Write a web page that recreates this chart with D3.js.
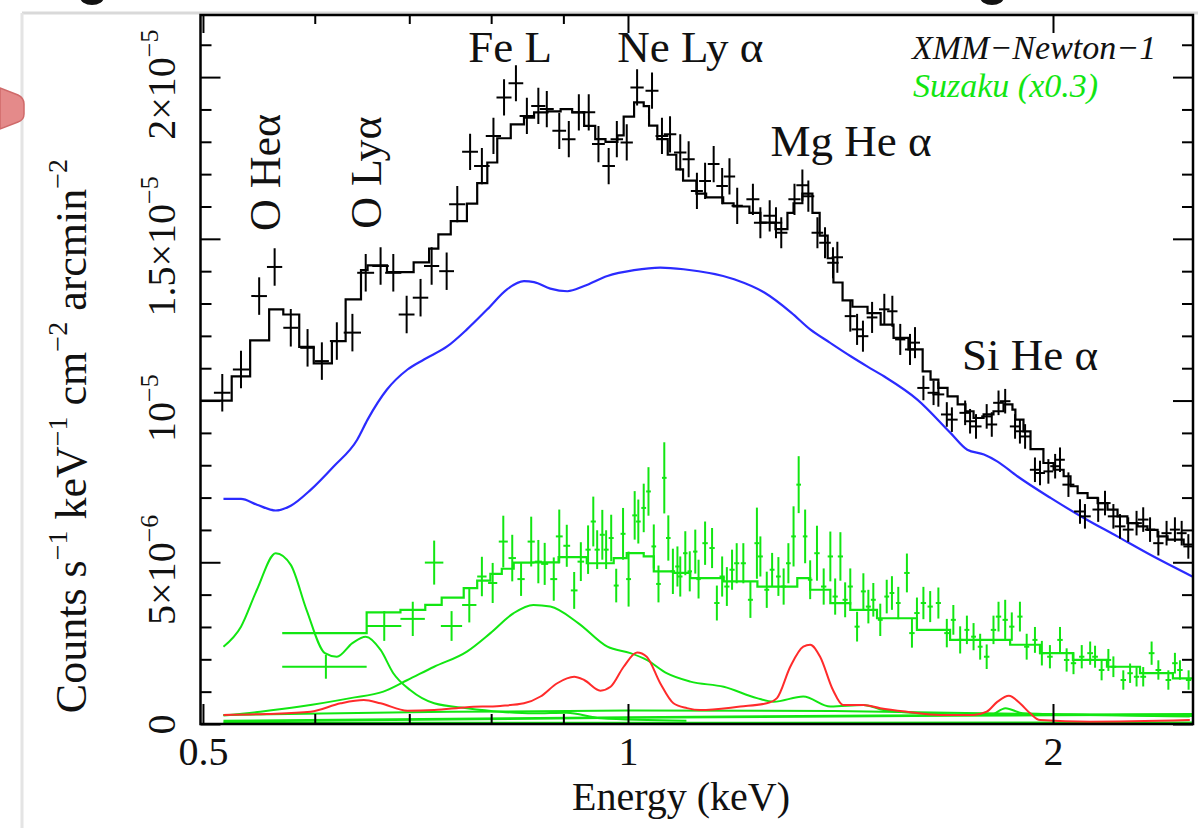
<!DOCTYPE html>
<html>
<head>
<meta charset="utf-8">
<script src="https://cdn.jsdelivr.net/npm/d3@7"></script>
<style>
  html, body { margin: 0; padding: 0; background: #fff; }
  svg { display: block; }
</style>
</head>
<body>
<svg id="chart" width="1198" height="828"></svg>
<script>
// ---------- data (rates in units of 1e-6 counts s^-1 keV^-1 cm^-2 arcmin^-2) ----------
const UNIT = 1e-6;

const xMajor = [0.5, 1, 2];
const xMinor = [0.6, 0.7, 0.8, 0.9];
const yMajor = [0, 5e-6, 1e-5, 1.5e-5, 2e-5];
const yTickMant = ["0", "5\u00d710", "10", "1.5\u00d710", "2\u00d710"];
const yTickExp = ["", "\u22126", "\u22125", "\u22125", "\u22125"];

// XMM-Newton data points
const xmmE = [
  0.516, 0.532, 0.548, 0.562, 0.577, 0.593, 0.607, 0.622, 0.638, 0.652,
  0.668, 0.682, 0.697, 0.713, 0.726, 0.744, 0.757, 0.773, 0.788, 0.803,
  0.817, 0.833, 0.848, 0.864, 0.876, 0.894, 0.908, 0.923, 0.938, 0.953,
  0.969, 0.982, 0.998, 1.015, 1.040, 1.057, 1.071, 1.089, 1.104, 1.119,
  1.134, 1.150, 1.166, 1.180, 1.195, 1.226, 1.241, 1.260, 1.273, 1.284,
  1.312, 1.329, 1.342, 1.362, 1.379, 1.397, 1.407, 1.437, 1.453, 1.467,
  1.489, 1.519, 1.539, 1.559, 1.584, 1.597, 1.619, 1.646, 1.659, 1.682,
  1.696, 1.733, 1.747, 1.764, 1.795, 1.810, 1.830, 1.850, 1.880, 1.895,
  1.911, 1.942, 1.958, 1.985, 2.007, 2.023, 2.051, 2.090, 2.107, 2.153,
  2.177, 2.207, 2.231, 2.261, 2.292, 2.317, 2.343, 2.375, 2.407, 2.440,
  2.467, 2.494
];
const xmmV = [
  10.24, 10.96, 13.23, 14.13, 12.25, 11.63, 11.22, 11.84, 12.10, 13.95,
  14.16, 13.95, 12.66, 13.18, 14.16, 14.00, 16.07, 17.69, 17.25, 18.18,
  19.37, 19.81, 18.80, 19.11, 19.01, 18.34, 18.08, 18.91, 18.91, 17.93,
  17.25, 18.08, 17.98, 19.68, 19.58, 18.18, 18.23, 17.67, 17.46, 16.48,
  16.79, 17.31, 16.63, 16.93, 16.02, 16.22, 15.50, 15.71, 15.50, 15.19,
  16.22, 16.66, 16.32, 15.19, 14.88, 14.26, 14.43, 12.61, 12.20, 11.99,
  12.57, 12.82, 12.76, 11.89, 11.58, 11.79, 10.39, 10.24, 10.19, 9.57,
  9.41, 9.62, 9.36, 9.20, 9.51, 9.26, 9.93, 9.98, 9.20, 9.05,
  8.89, 7.86, 7.76, 7.81, 7.97, 8.17, 7.40, 6.57, 6.42, 6.63,
  6.83, 6.42, 6.11, 6.01, 6.21, 6.32, 6.01, 5.59, 5.90, 6.01,
  5.90, 5.49
];
const xmmErrV = [
  0.58, 0.58, 0.58, 0.58, 0.58, 0.58, 0.58, 0.58, 0.58, 0.58,
  0.58, 0.58, 0.58, 0.58, 0.58, 0.58, 0.56, 0.56, 0.56, 0.56,
  0.56, 0.56, 0.56, 0.56, 0.56, 0.56, 0.56, 0.56, 0.56, 0.56,
  0.56, 0.56, 0.56, 0.56, 0.56, 0.56, 0.56, 0.56, 0.56, 0.56,
  0.56, 0.56, 0.56, 0.56, 0.56, 0.48, 0.48, 0.48, 0.48, 0.48,
  0.48, 0.48, 0.48, 0.48, 0.48, 0.48, 0.48, 0.48, 0.48, 0.48,
  0.48, 0.48, 0.48, 0.48, 0.48, 0.48, 0.38, 0.38, 0.38, 0.38,
  0.38, 0.38, 0.38, 0.38, 0.38, 0.38, 0.38, 0.38, 0.38, 0.38,
  0.38, 0.38, 0.38, 0.38, 0.38, 0.38, 0.38, 0.38, 0.38, 0.38,
  0.38, 0.38, 0.38, 0.38, 0.38, 0.38, 0.38, 0.38, 0.38, 0.38,
  0.38, 0.38
];
const xmmErrE = [
  0.007, 0.007, 0.007, 0.007, 0.007, 0.007, 0.007, 0.007, 0.009, 0.009,
  0.009, 0.009, 0.009, 0.009, 0.009, 0.009, 0.010, 0.010, 0.010, 0.010,
  0.010, 0.010, 0.010, 0.010, 0.010, 0.010, 0.010, 0.010, 0.010, 0.010,
  0.010, 0.010, 0.010, 0.011, 0.011, 0.011, 0.011, 0.011, 0.011, 0.011,
  0.011, 0.011, 0.011, 0.011, 0.011, 0.013, 0.013, 0.013, 0.013, 0.013,
  0.013, 0.013, 0.013, 0.013, 0.013, 0.013, 0.013, 0.013, 0.013, 0.013,
  0.013, 0.013, 0.013, 0.013, 0.013, 0.013, 0.016, 0.016, 0.016, 0.016,
  0.016, 0.016, 0.016, 0.016, 0.016, 0.016, 0.016, 0.016, 0.016, 0.016,
  0.016, 0.016, 0.016, 0.016, 0.016, 0.016, 0.020, 0.020, 0.020, 0.020,
  0.020, 0.020, 0.020, 0.020, 0.020, 0.020, 0.020, 0.020, 0.020, 0.020,
  0.020, 0.020
];

// XMM-Newton folded model (histogram: bin left edges + values)
const xmmStepE = [
  0.498, 0.524, 0.540, 0.557, 0.570, 0.585, 0.599, 0.617, 0.631, 0.647,
  0.654, 0.675, 0.705, 0.723, 0.734, 0.749, 0.769, 0.782, 0.795, 0.808,
  0.826, 0.844, 0.858, 0.877, 0.896, 0.913, 0.931, 0.948, 0.964, 0.983,
  0.993, 1.010, 1.026, 1.035, 1.049, 1.067, 1.082, 1.094, 1.118, 1.136,
  1.168, 1.188, 1.219, 1.241, 1.272, 1.297, 1.310, 1.329, 1.351, 1.367,
  1.385, 1.398, 1.419, 1.442, 1.478, 1.510, 1.542, 1.580, 1.617, 1.638,
  1.659, 1.684, 1.712, 1.734, 1.757, 1.786, 1.815, 1.845, 1.872, 1.881,
  1.906, 1.928, 1.969, 2.002, 2.035, 2.058, 2.082, 2.116, 2.151, 2.186,
  2.222, 2.258, 2.296, 2.333, 2.372, 2.411, 2.475
];
const xmmStepV = [
  10.00, 10.75, 11.86, 12.82, 12.66, 11.66, 11.15, 11.84, 13.13, 14.03,
  14.18, 13.97, 14.27, 14.70, 15.14, 15.55, 16.09, 16.72, 17.36, 18.11,
  18.54, 18.75, 18.91, 18.94, 19.01, 18.91, 18.49, 18.08, 18.00, 18.20,
  18.78, 19.22, 19.10, 18.50, 18.08, 17.60, 17.15, 16.80, 16.40, 16.28,
  16.10, 16.00, 15.80, 15.50, 15.30, 15.80, 16.10, 16.40, 15.80, 15.10,
  14.40, 13.65, 13.10, 12.90, 12.70, 12.35, 11.94, 11.58, 10.90, 10.65,
  10.39, 10.13, 9.88, 9.67, 9.46, 9.57, 9.67, 9.88, 9.72, 9.41,
  9.05, 8.50, 8.07, 7.86, 7.66, 7.35, 7.14, 6.99, 6.83, 6.63,
  6.42, 6.21, 6.11, 6.00, 5.80, 5.70, 5.55
];
const xmmStepEnd = 2.52;

// continuum model (blue)
const blueE = [
  0.517, 0.532, 0.546, 0.563, 0.577, 0.596, 0.619, 0.643, 0.654, 0.675,
  0.698, 0.717, 0.745, 0.769, 0.795, 0.821, 0.844, 0.858, 0.881, 0.906,
  0.931, 0.967, 1.010, 1.054, 1.095, 1.189, 1.249, 1.305, 1.346, 1.389,
  1.438, 1.478, 1.518, 1.603, 1.692, 1.739, 1.787, 1.826, 1.887, 1.992,
  2.103, 2.221, 2.344, 2.510
];
const blueV = [
  6.96, 6.96, 6.78, 6.60, 6.75, 7.24, 7.97, 8.79, 9.41, 10.34,
  10.96, 11.27, 11.68, 12.20, 12.82, 13.44, 13.69, 13.66, 13.46, 13.38,
  13.54, 13.85, 14.03, 14.11, 14.06, 13.75, 13.34, 12.72, 12.20, 11.80,
  11.37, 11.05, 10.75, 10.03, 9.00, 8.48, 8.33, 8.12, 7.66, 6.99,
  6.37, 5.80, 5.23, 4.56
];

// Suzaku data points (x0.3)
const suzE = [
  0.611, 0.672, 0.704, 0.729, 0.750, 0.772, 0.788, 0.802, 0.816, 0.828,
  0.840, 0.854, 0.864, 0.873, 0.886, 0.894, 0.905, 0.916, 0.926, 0.937,
  0.945, 0.951, 0.959, 0.965, 0.973, 0.981, 0.992, 1.001, 1.011, 1.017,
  1.026, 1.034, 1.043, 1.051, 1.061, 1.068, 1.076, 1.084, 1.089, 1.098,
  1.106, 1.116, 1.122, 1.134, 1.147, 1.156, 1.166, 1.175, 1.185, 1.194,
  1.207, 1.221, 1.234, 1.241, 1.254, 1.265, 1.278, 1.289, 1.299, 1.310,
  1.321, 1.335, 1.346, 1.361, 1.376, 1.391, 1.402, 1.414, 1.425, 1.437,
  1.453, 1.468, 1.480, 1.492, 1.509, 1.525, 1.538, 1.554, 1.576, 1.589,
  1.602, 1.619, 1.637, 1.659, 1.682, 1.700, 1.719, 1.738, 1.757, 1.776,
  1.795, 1.815, 1.830, 1.850, 1.870, 1.895, 1.916, 1.942, 1.964, 1.990,
  2.023, 2.045, 2.068, 2.096, 2.125, 2.142, 2.165, 2.189, 2.207, 2.243,
  2.268, 2.292, 2.317, 2.349, 2.375, 2.414, 2.440, 2.460, 2.495
];
const suzV = [
  1.77, 3.03, 3.25, 4.99, 3.03, 3.68, 4.56, 4.36, 5.64, 5.13,
  4.48, 5.64, 5.02, 4.95, 4.48, 5.80, 5.51, 4.13, 5.02, 5.39,
  6.26, 5.39, 5.85, 5.39, 5.75, 4.28, 5.88, 4.48, 6.45, 6.26,
  6.68, 7.19, 5.49, 4.33, 7.61, 5.75, 4.72, 4.87, 4.56, 5.28,
  4.72, 5.33, 4.48, 5.59, 5.44, 3.74, 4.56, 4.25, 4.77, 4.97,
  4.97, 3.84, 5.59, 5.18, 4.15, 4.77, 4.56, 4.25, 4.97, 5.80,
  7.40, 5.80, 4.46, 5.28, 4.25, 5.18, 3.94, 5.18, 3.84, 4.25,
  3.01, 4.10, 3.63, 3.84, 3.22, 3.94, 4.05, 3.74, 4.67, 2.81,
  3.43, 3.74, 3.63, 3.74, 2.81, 3.22, 2.60, 2.91, 2.70, 2.39,
  2.08, 2.91, 3.32, 3.22, 3.01, 3.32, 2.39, 2.60, 2.19, 2.08,
  2.60, 1.98, 1.88, 2.08, 2.19, 2.08, 1.67, 1.98, 1.77, 1.36,
  1.57, 1.46, 1.46, 2.19, 1.67, 1.36, 1.88, 1.67, 1.36
];
const suzErrV = [
  0.37, 0.46, 0.53, 0.68, 0.46, 0.54, 0.61, 0.62, 0.80, 0.72,
  0.52, 0.77, 0.67, 0.65, 0.67, 0.83, 0.65, 0.57, 0.60, 0.75,
  0.77, 0.60, 0.77, 0.60, 0.72, 0.52, 0.80, 0.85, 0.75, 0.68,
  0.75, 0.75, 0.68, 0.57, 1.10, 0.70, 0.70, 0.62, 0.62, 0.68,
  0.62, 0.68, 0.60, 0.67, 0.62, 0.54, 0.62, 0.60, 0.62, 0.62,
  0.62, 0.56, 1.10, 0.62, 0.56, 0.52, 0.60, 0.56, 0.62, 0.93,
  0.88, 0.83, 0.60, 0.85, 0.56, 0.77, 0.56, 0.75, 0.54, 0.56,
  0.46, 0.56, 0.52, 0.52, 0.50, 0.52, 0.52, 0.50, 0.60, 0.45,
  0.48, 0.50, 0.48, 0.48, 0.44, 0.46, 0.42, 0.44, 0.42, 0.40,
  0.38, 0.44, 0.46, 0.62, 0.44, 0.46, 0.40, 0.40, 0.38, 0.36,
  0.40, 0.36, 0.34, 0.36, 0.36, 0.34, 0.32, 0.34, 0.32, 0.30,
  0.30, 0.30, 0.30, 0.36, 0.30, 0.30, 0.32, 0.30, 0.30
];
const suzErrE = [
  0.042, 0.019, 0.014, 0.011, 0.013, 0.009, 0.006, 0.006, 0.006, 0.005,
  0.005, 0.005, 0.005, 0.005, 0.005, 0.005, 0.005, 0.005, 0.005, 0.004,
  0.004, 0.004, 0.004, 0.004, 0.004, 0.004, 0.004, 0.004, 0.004, 0.004,
  0.004, 0.004, 0.004, 0.004, 0.004, 0.004, 0.004, 0.004, 0.004, 0.004,
  0.004, 0.004, 0.004, 0.005, 0.005, 0.005, 0.005, 0.005, 0.005, 0.005,
  0.005, 0.005, 0.005, 0.005, 0.005, 0.005, 0.005, 0.005, 0.005, 0.005,
  0.005, 0.005, 0.005, 0.006, 0.006, 0.006, 0.006, 0.006, 0.006, 0.006,
  0.006, 0.006, 0.006, 0.006, 0.006, 0.006, 0.006, 0.006, 0.007, 0.007,
  0.007, 0.007, 0.007, 0.007, 0.007, 0.007, 0.007, 0.007, 0.007, 0.007,
  0.008, 0.008, 0.008, 0.008, 0.008, 0.008, 0.008, 0.008, 0.009, 0.009,
  0.009, 0.009, 0.009, 0.009, 0.010, 0.010, 0.010, 0.010, 0.010, 0.010,
  0.010, 0.010, 0.011, 0.011, 0.011, 0.011, 0.011, 0.011, 0.011
];

// Suzaku folded model (histogram)
const suzStepE = [
  0.569, 0.653, 0.690, 0.7185, 0.738, 0.765, 0.782, 0.799, 0.814, 0.830,
  0.857, 0.893, 0.935, 0.977, 0.998, 1.026, 1.043, 1.077, 1.107, 1.169,
  1.235, 1.318, 1.346, 1.391, 1.437, 1.501, 1.602, 1.691, 1.865, 1.958,
  2.066, 2.184, 2.305, 2.432
];
const suzStepV = [
  2.81, 3.45, 3.53, 3.68, 3.91, 4.20, 4.43, 4.64, 4.80, 4.99,
  5.00, 5.16, 4.97, 5.13, 5.28, 5.18, 4.72, 4.67, 4.51, 4.41,
  4.25, 4.51, 4.15, 3.74, 3.53, 3.27, 2.91, 2.60, 2.45, 2.19,
  1.98, 1.77, 1.57, 1.41
];
const suzStepEnd = 2.52;

// Suzaku model components (green)
const oLineE = [0.517, 0.532, 0.546, 0.563, 0.577, 0.592, 0.610, 0.622, 0.638, 0.652,
  0.668, 0.682, 0.701, 0.729, 0.769, 0.812, 0.857, 0.905, 0.956, 1.100];
const oLineV = [2.39, 3.01, 4.15, 5.28, 4.92, 3.53, 2.19, 2.08, 2.50, 2.70,
  2.29, 1.57, 1.05, 0.64, 0.49, 0.38, 0.33, 0.35, 0.18, 0.10];

const feLE = [0.517, 0.549, 0.586, 0.636, 0.671, 0.698, 0.729, 0.769, 0.799, 0.830,
  0.857, 0.881, 0.922, 0.967, 1.004, 1.031, 1.065, 1.107, 1.169, 1.234,
  1.268, 1.331, 1.391, 1.468, 1.517, 1.618, 1.805, 1.851, 1.904, 2.125, 2.500];
const feLV = [0.26, 0.38, 0.54, 0.80, 1.00, 1.36, 1.77, 2.24, 2.81, 3.43,
  3.68, 3.63, 3.12, 2.39, 2.19, 1.98, 1.57, 1.31, 1.15, 0.80,
  0.69, 0.85, 0.54, 0.59, 0.43, 0.33, 0.28, 0.49, 0.33, 0.28, 0.23];

const lowAE = [0.517, 0.750, 1.000, 1.500, 2.000, 2.520];
const lowAV = [0.09, 0.15, 0.20, 0.25, 0.28, 0.30];
const lowBE = [0.517, 0.700, 1.000, 1.400, 2.000, 2.520];
const lowBV = [0.28, 0.36, 0.42, 0.40, 0.30, 0.25];
const lowCE = [0.517, 1.100, 2.520];
const lowCV = [0.03, 0.03, 0.04];

// line emission model (red)
const redE = [
  0.517, 0.555, 0.596, 0.626, 0.650, 0.668, 0.698, 0.729, 0.769, 0.812,
  0.844, 0.867, 0.891, 0.916, 0.931, 0.956, 0.972, 0.993, 1.015, 1.031,
  1.054, 1.077, 1.101, 1.125, 1.201, 1.254, 1.275, 1.303, 1.331, 1.346,
  1.368, 1.397, 1.420, 1.468, 1.509, 1.576, 1.664, 1.757, 1.795, 1.827,
  1.861, 1.895, 1.927, 1.958, 2.125, 2.500
];
const redV = [
  0.28, 0.31, 0.38, 0.64, 0.74, 0.64, 0.41, 0.43, 0.52, 0.56,
  0.64, 0.85, 1.26, 1.46, 1.36, 1.03, 1.15, 1.77, 2.21, 2.08,
  1.26, 0.64, 0.49, 0.43, 0.54, 0.64, 0.80, 1.77, 2.39, 2.45,
  2.08, 1.05, 0.59, 0.59, 0.49, 0.38, 0.28, 0.28, 0.38, 0.69,
  0.87, 0.64, 0.33, 0.12, 0.07, 0.12
];

// annotations
const lineLabels = [
  { text: "Fe L", E: 0.825, v: 20.46, anchor: "middle" },
  { text: "Ne Ly \u03b1", E: 1.107, v: 20.46, anchor: "middle" },
  { text: "Mg He \u03b1", E: 1.2615, v: 17.56, anchor: "start" },
  { text: "Si He \u03b1", E: 1.7240, v: 10.95, anchor: "start" }
];
const rotLabels = [
  { text: "O He\u03b1", E: 0.5665, v: 17.05 },
  { text: "O Ly\u03b1", E: 0.6680, v: 17.05 }
];

// ---------- layout ----------
const W = 1198, H = 828;
const plotL = 200.5, plotR = 1193, plotT = 15, plotB = 724;
const SERIF = "'Liberation Serif', 'Times New Roman', Times, serif";
const GREEN = "#12e612", RED = "#ff2b2b", BLUE = "#2b2bff";

const svg = d3.select("#chart");
const x = d3.scaleLog().domain([0.498, 2.513]).range([plotL, plotR]);
const y = d3.scaleLinear().domain([0, 21.92e-6]).range([plotB, plotT]);

// slide decorations around the figure
svg.append("rect").attr("width", W).attr("height", H).attr("fill", "#fff");
svg.append("line").attr("x1", 22).attr("x2", W).attr("y1", 13).attr("y2", 13)
  .attr("stroke", "#d9d9d9").attr("stroke-width", 3);
svg.append("line").attr("x1", 22).attr("x2", 22).attr("y1", 13).attr("y2", H)
  .attr("stroke", "#e4e4e4").attr("stroke-width", 3);
svg.append("path").attr("d", "M0,88 L18,95 Q24,98 24,104 L24,114 Q24,120 18,122 L0,129 Z")
  .attr("fill", "#e48a8a").attr("stroke", "#cf6a6a").attr("stroke-width", 1.5);
svg.append("ellipse").attr("cx", 92).attr("cy", -3).attr("rx", 12).attr("ry", 8).attr("fill", "#111");
svg.append("ellipse").attr("cx", 992).attr("cy", -3).attr("rx", 12).attr("ry", 8).attr("fill", "#111");

svg.append("clipPath").attr("id", "plotClip")
  .append("rect").attr("x", plotL).attr("y", plotT).attr("width", plotR - plotL).attr("height", plotB - plotT);
const plot = svg.append("g").attr("clip-path", "url(#plotClip)");

function pts(E, V) { return E.map((e, i) => [e, V[i] * UNIT]); }

const smooth = d3.line().x(d => x(d[0])).y(d => y(d[1])).curve(d3.curveMonotoneX);
const stepLine = d3.line().x(d => x(d[0])).y(d => y(d[1])).curve(d3.curveStepAfter);

function stepPts(E, V, end) {
  const p = pts(E, V);
  p.push([end, V[V.length - 1] * UNIT]);
  return p;
}

function drawCurve(E, V, color, w) {
  plot.append("path").attr("d", smooth(pts(E, V)))
    .attr("fill", "none").attr("stroke", color).attr("stroke-width", w)
    .attr("stroke-linejoin", "round");
}

function drawStep(E, V, end, color, w) {
  plot.append("path").attr("d", stepLine(stepPts(E, V, end)))
    .attr("fill", "none").attr("stroke", color).attr("stroke-width", w);
}

function drawCrosses(E, V, errV, errE, color, w) {
  const data = E.map((e, i) => ({ e, v: V[i] * UNIT, dv: errV[i] * UNIT, de: errE[i] }));
  const g = plot.append("g").attr("stroke", color).attr("stroke-width", w);
  g.selectAll(null).data(data).join("line")
    .attr("x1", d => x(d.e - d.de)).attr("x2", d => x(d.e + d.de))
    .attr("y1", d => y(d.v)).attr("y2", d => y(d.v));
  g.selectAll(null).data(data).join("line")
    .attr("x1", d => x(d.e)).attr("x2", d => x(d.e))
    .attr("y1", d => y(d.v - d.dv)).attr("y2", d => y(d.v + d.dv));
}

// green model components and red lines
drawCurve(lowCE, lowCV, GREEN, 2.6);
drawCurve(lowAE, lowAV, GREEN, 2.6);
drawCurve(lowBE, lowBV, GREEN, 2);
drawCurve(oLineE, oLineV, GREEN, 2);
drawCurve(feLE, feLV, GREEN, 2);
drawCurve(redE, redV, RED, 2);

// XMM
drawCurve(blueE, blueV, BLUE, 2.2);
drawStep(xmmStepE, xmmStepV, xmmStepEnd, "#000", 2.2);
drawCrosses(xmmE, xmmV, xmmErrV, xmmErrE, "#000", 2);

// Suzaku
drawStep(suzStepE, suzStepV, suzStepEnd, GREEN, 2.2);
drawCrosses(suzE, suzV, suzErrV, suzErrE, GREEN, 2);

// ---------- axes ----------
function styleTicks(g, w) {
  g.select(".domain").remove();
  g.selectAll(".tick line").attr("stroke", "#000").attr("stroke-width", w);
}

svg.append("g").attr("transform", `translate(0,${plotB})`)
  .call(d3.axisBottom(x).tickValues(xMinor).tickSizeInner(-10).tickSizeOuter(0).tickFormat(""))
  .call(g => styleTicks(g, 2));
const gxb = svg.append("g").attr("transform", `translate(0,${plotB})`)
  .call(d3.axisBottom(x).tickValues(xMajor).tickSizeInner(-20).tickSizeOuter(0).tickFormat(d3.format("")))
  .call(g => styleTicks(g, 2));
gxb.selectAll(".tick text").attr("y", 41).attr("dy", 0)
  .attr("font-family", SERIF).attr("font-size", 40).attr("fill", "#111");

svg.append("g").attr("transform", `translate(0,${plotT})`)
  .call(d3.axisTop(x).tickValues(xMinor).tickSizeInner(-9).tickSizeOuter(0).tickFormat(""))
  .call(g => styleTicks(g, 2));
svg.append("g").attr("transform", `translate(0,${plotT})`)
  .call(d3.axisTop(x).tickValues(xMajor).tickSizeInner(-18).tickSizeOuter(0).tickFormat(""))
  .call(g => styleTicks(g, 2));

const yMinor = y.ticks(22).filter(t => !yMajor.some(m => Math.abs(m - t) < 1e-9));
svg.append("g").attr("transform", `translate(${plotL},0)`)
  .call(d3.axisLeft(y).tickValues(yMinor).tickSizeInner(-11).tickSizeOuter(0).tickFormat(""))
  .call(g => styleTicks(g, 2));
const gyl = svg.append("g").attr("transform", `translate(${plotL},0)`)
  .call(d3.axisLeft(y).tickValues(yMajor).tickSizeInner(-20).tickSizeOuter(0).tickFormat(""))
  .call(g => styleTicks(g, 2));
svg.append("g").attr("transform", `translate(${plotR},0)`)
  .call(d3.axisRight(y).tickValues(yMinor).tickSizeInner(-11).tickSizeOuter(0).tickFormat(""))
  .call(g => styleTicks(g, 2));
svg.append("g").attr("transform", `translate(${plotR},0)`)
  .call(d3.axisRight(y).tickValues(yMajor).tickSizeInner(-20).tickSizeOuter(0).tickFormat(""))
  .call(g => styleTicks(g, 2));

// rotated y tick labels with superscript exponents
gyl.selectAll(".tick").each(function (d, i) {
  const t = d3.select(this).append("text")
    .attr("transform", `translate(-26,${i === 0 ? 0 : 7}) rotate(-90)`)
    .attr("text-anchor", "middle")
    .attr("font-family", SERIF).attr("font-size", 40).attr("fill", "#111");
  t.append("tspan").text(yTickMant[i]);
  if (yTickExp[i]) t.append("tspan").attr("dy", -17).attr("font-size", 26).text(yTickExp[i]);
});

// frame
svg.append("rect").attr("x", plotL).attr("y", plotT).attr("width", plotR - plotL).attr("height", plotB - plotT)
  .attr("fill", "none").attr("stroke", "#000").attr("stroke-width", 2.5);

// axis titles
svg.append("text").attr("x", 681).attr("y", 810).attr("text-anchor", "middle")
  .attr("font-family", SERIF).attr("font-size", 40).attr("fill", "#111").text("Energy (keV)");

const yt = svg.append("text").attr("transform", "translate(86,436) rotate(-90)")
  .attr("text-anchor", "middle").attr("font-family", SERIF).attr("font-size", 44).attr("fill", "#111");
[["Counts s", 0], ["\u22121", -19], [" keV", 19], ["\u22121", -19], [" cm", 19], ["\u22122", -19], [" arcmin", 19], ["\u22122", -19]]
  .forEach(([s, dy]) => {
    const sp = yt.append("tspan").attr("dy", dy).text(s);
    if (s.startsWith("\u2212")) sp.attr("font-size", 28);
  });

// emission-line annotations
svg.selectAll(null).data(lineLabels).join("text")
  .attr("x", d => x(d.E)).attr("y", d => y(d.v * UNIT))
  .attr("text-anchor", d => d.anchor)
  .attr("font-family", SERIF).attr("font-size", 45).attr("fill", "#111")
  .text(d => d.text);
svg.selectAll(null).data(rotLabels).join("text")
  .attr("transform", d => `translate(${x(d.E)},${y(d.v * UNIT)}) rotate(-90)`)
  .attr("text-anchor", "middle")
  .attr("font-family", SERIF).attr("font-size", 44).attr("fill", "#111")
  .text(d => d.text);

// legend
svg.append("text").attr("x", 912).attr("y", 59)
  .attr("font-family", SERIF).attr("font-style", "italic").attr("font-size", 34).attr("fill", "#111")
  .text("XMM\u2212Newton\u22121");
svg.append("text").attr("x", 913).attr("y", 97)
  .attr("font-family", SERIF).attr("font-style", "italic").attr("font-size", 34).attr("fill", GREEN)
  .text("Suzaku (x0.3)");
</script>
</body>
</html>
